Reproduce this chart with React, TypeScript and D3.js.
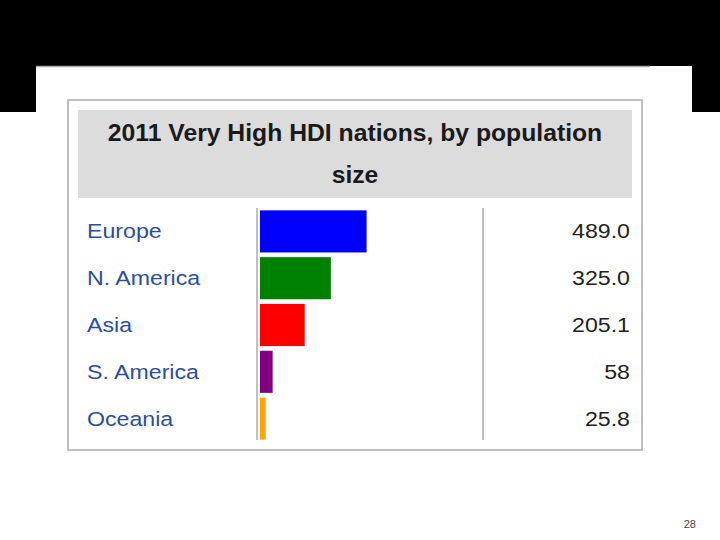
import React from "react";
import * as d3 from "d3";

const categories = ["Europe", "N. America", "Asia", "S. America", "Oceania"];
const values = [489.0, 325.0, 205.1, 58, 25.8];
const valueLabels = ["489.0", "325.0", "205.1", "58", "25.8"];
const colors = ["#0000ff", "#008000", "#ff0000", "#800080", "#ffa500"];
const titleLines = ["2011 Very High HDI nations, by population", "size"];
const pageNumber = "28";

export default function App() {
  const W = 720;
  const H = 540;
  const x = d3.scaleLinear().domain([0, 1000]).range([260, 478]);
  const y = d3.scaleBand().domain(categories).range([208, 442]).paddingInner(0.1).paddingOuter(0.05);
  const font = "Arial, 'Liberation Sans', sans-serif";
  const sx = 1.13;
  return (
    <svg width={W} height={H} style={{ position: "absolute", left: 0, top: 0, background: "#fff" }}>
      <rect x={0} y={0} width={W} height={H} fill="#ffffff" />
      <rect x={0} y={0} width={W} height={66} fill="#000000" />
      <rect x={0} y={66} width={36} height={46} fill="#000000" />
      <rect x={692} y={66} width={28} height={46} fill="#000000" />
      <line x1={36} x2={650} y1={66.5} y2={66.5} stroke="#a8a8a8" strokeWidth={1.5} />

      <rect x={68} y={100} width={574} height={350} fill="#fff" stroke="#c0c0c0" strokeWidth={2} />
      <rect x={78} y={110} width={554} height={88} fill="#dcdcdc" />
      {titleLines.map((t, i) => (
        <text
          key={i}
          transform={`translate(355,${141 + i * 42}) scale(1.03,1)`}
          textAnchor="middle"
          fontFamily={font}
          fontWeight="bold"
          fontSize={24}
          fill="#1a1a1a"
        >
          {t}
        </text>
      ))}

      <line x1={257} x2={257} y1={208} y2={440} stroke="#c0c0c0" strokeWidth={2} />
      <line x1={483} x2={483} y1={208} y2={440} stroke="#c0c0c0" strokeWidth={2} />

      {categories.map((c, i) => {
        const yy = y(c)!;
        const bh = y.bandwidth();
        const base = yy + bh / 2 + 7;
        return (
          <g key={c}>
            <text transform={`translate(87,${base}) scale(${sx},1)`} fontFamily={font} fontSize={20.5} fill="#2b4e9e">
              {c}
            </text>
            <rect x={x(0)} y={yy} width={x(values[i]) - x(0)} height={bh} fill={colors[i]} />
            <text
              transform={`translate(630,${base}) scale(${sx},1)`}
              textAnchor="end"
              fontFamily={font}
              fontSize={20.5}
              fill="#222"
            >
              {valueLabels[i]}
            </text>
          </g>
        );
      })}

      <text x={696} y={528} textAnchor="end" fontFamily={font} fontSize={11} fill="#444">
        {pageNumber}
      </text>
    </svg>
  );
}
